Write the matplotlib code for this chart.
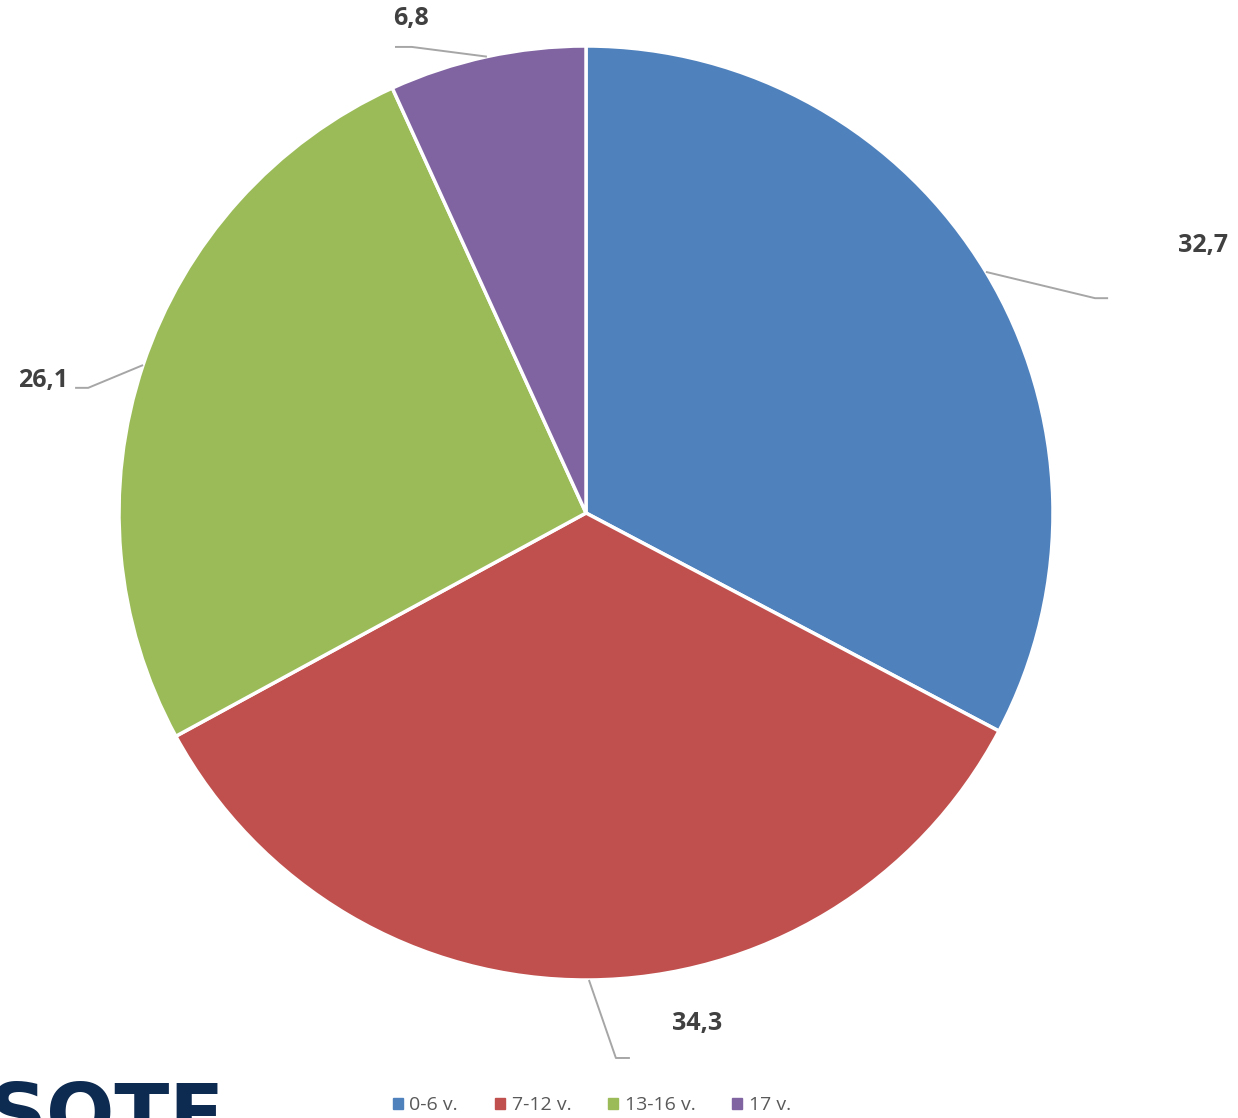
import matplotlib.pyplot as plt
import matplotlib.patches as mpatches
import numpy as np

# Data
categories = ['0-6 v.', '7-12 v.', '13-16 v.', '17 v.']
values = [32.7, 34.3, 26.1, 6.8]
labels = ['32,7', '34,3', '26,1', '6,8']

colors = ['#4f81bd', '#c0504d', '#9bbb59', '#8064a2']

# label layout (data units, pie radius = 1): elbow, line end, text centre
label_pos = [
    ((1.09, 0.46), (1.118, 0.46), (1.321, 0.572)),
    ((0.064, -1.167), (0.094, -1.167), (0.238, -1.094)),
    ((-1.066, 0.268), (-1.094, 0.268), (-1.163, 0.283)),
    ((-0.373, 0.998), (-0.409, 0.998), (-0.374, 1.058)),
]

fig = plt.figure(figsize=(12.38, 11.18), dpi=100)
# pie centre at (586, 513) px, radius 467 px
W, H = 1238, 1118
cx, cy, r = 586, 513, 467
ax = fig.add_axes([(cx - r) / W, (H - cy - r) / H, 2 * r / W, 2 * r / H])

wedges, _ = ax.pie(values, colors=colors, startangle=90, counterclock=False,
                   radius=1.0, wedgeprops=dict(edgecolor='white', linewidth=2.5))
ax.set_xlim(-1, 1)
ax.set_ylim(-1, 1)
ax.set_aspect('equal')
ax.axis('off')

# leader lines and value labels
for w, lab, (elbow, end, txt) in zip(wedges, labels, label_pos):
    mid = np.deg2rad((w.theta1 + w.theta2) / 2)
    edge = (np.cos(mid), np.sin(mid))
    ax.plot([edge[0], elbow[0], end[0]], [edge[1], elbow[1], end[1]],
            color='#a6a6a6', lw=1.4, clip_on=False, solid_capstyle='butt')
    ax.text(txt[0], txt[1], lab, ha='center', va='center', fontsize=18,
            fontweight='bold', family='Open Sans', color='#404040', clip_on=False)

# legend
handles = [mpatches.Patch(color=c, label=l) for c, l in zip(colors, categories)]
fig.legend(handles=handles, loc='center', bbox_to_anchor=(592 / W, 1 - 1105 / H),
           ncol=4, frameon=False, handlelength=0.5, handleheight=0.5,
           handletextpad=0.35, columnspacing=1.9, labelcolor='#595959',
           borderaxespad=0, prop={'family': 'Open Sans', 'size': 14})

# partly visible logo at bottom-left
fig.text(-12 / W, 1 - 1080 / H, 'SOTE', ha='left', va='top', fontsize=58,
         fontweight='bold', color='#0d2a50', family='DejaVu Sans')

plt.savefig('out.png', dpi=100)
